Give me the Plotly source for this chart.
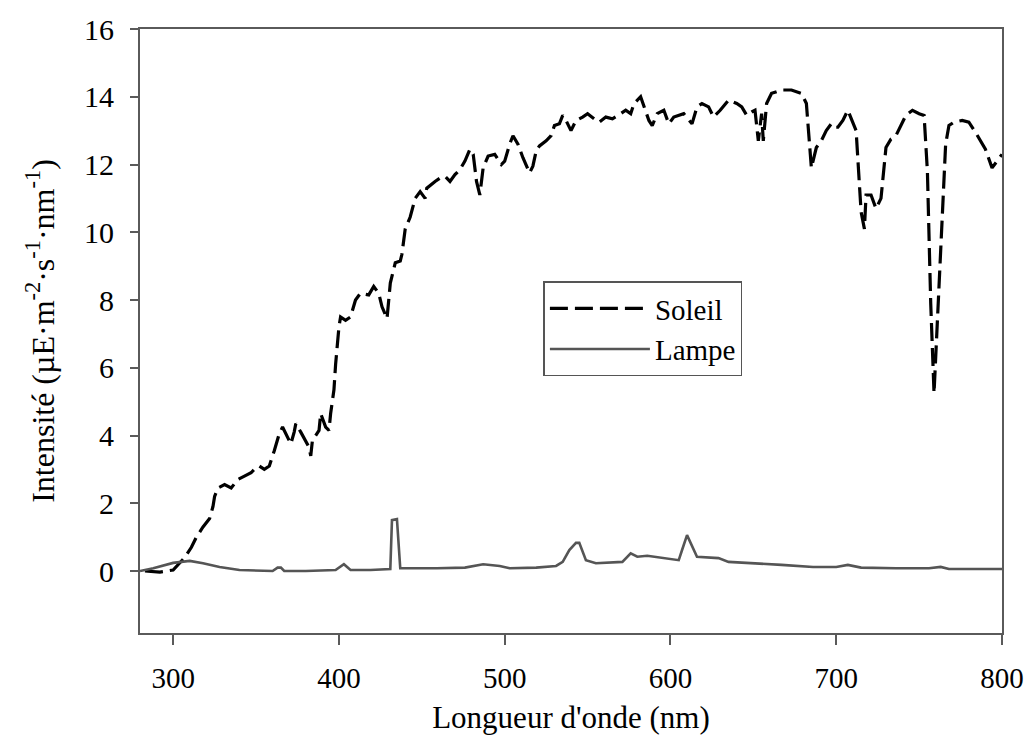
import plotly.graph_objects as go

# Soleil (sun) spectrum
soleil_nm = [283, 292, 300, 304, 307, 311, 314, 318, 322, 324, 325, 327, 331, 335, 339, 343, 347, 350,
             352, 355, 358, 361, 364, 366, 369, 371, 373, 374, 377, 380, 382, 383, 384, 388, 389, 392,
             394, 395, 396, 397, 398, 399, 400, 401, 404, 407, 410, 413, 418, 421, 424, 426, 429, 431,
             434, 437, 438, 440, 443, 446, 449, 452, 453, 458, 461, 464, 467, 470, 473, 476, 479, 481,
             483, 485, 487, 490, 494, 498, 500, 503, 505, 508, 511, 515, 517, 519, 521, 525, 528, 530,
             533, 535, 537, 540, 543, 547, 550, 554, 557, 561, 565, 570, 573, 576, 578, 582, 587, 589,
             592, 596, 599, 602, 608, 613, 616, 619, 623, 626, 630, 635, 640, 643, 646, 649, 651, 653,
             655, 656, 658, 661, 667, 673, 679, 682, 684, 685, 688, 691, 694, 697, 699, 701, 704, 707,
             712, 715, 717, 718, 721, 724, 727, 730, 733, 736, 742, 746, 750, 753, 755, 757, 759, 761,
             763, 766, 768, 771, 776, 780, 784, 790, 794, 797, 800]
soleil_val = [0.0, -0.03, 0.03, 0.23, 0.4, 0.7, 1.0, 1.3, 1.55, 1.9, 2.2, 2.45, 2.55, 2.45, 2.7, 2.8, 2.9, 3.05,
              3.1, 3.0, 3.1, 3.55, 4.05, 4.25, 3.95, 3.75, 4.1, 4.35, 4.1, 3.85, 3.65, 3.4, 3.85, 4.15, 4.65, 4.25,
              4.15, 4.65, 4.95, 5.35, 6.1, 6.8, 7.2, 7.5, 7.4, 7.5, 8.0, 8.2, 8.15, 8.4, 8.2, 7.8, 7.45, 8.5,
              9.1, 9.15, 9.35, 10.1, 10.45, 11.0, 11.2, 11.0, 11.3, 11.5, 11.6, 11.65, 11.5, 11.7, 11.85, 12.1, 12.45, 12.3,
              11.5, 11.1, 11.9, 12.25, 12.3, 12.0, 12.1, 12.6, 12.85, 12.6, 12.2, 11.75, 11.95, 12.4, 12.55, 12.7, 12.85, 13.15,
              13.2, 13.45, 13.3, 13.0, 13.3, 13.4, 13.5, 13.35, 13.25, 13.4, 13.35, 13.5, 13.6, 13.5, 13.8, 14.0, 13.3, 13.15,
              13.5, 13.6, 13.2, 13.4, 13.5, 13.2, 13.7, 13.8, 13.7, 13.4, 13.6, 13.9, 13.8, 13.7, 13.45, 13.55, 13.6, 12.7,
              13.5, 12.7, 13.8, 14.1, 14.2, 14.2, 14.1, 13.8, 12.6, 11.9, 12.5, 12.7, 13.0, 13.2, 13.1, 13.1, 13.3, 13.6,
              13.0, 10.6, 10.1, 11.1, 11.1, 10.7, 11.0, 12.5, 12.75, 12.85, 13.45, 13.6, 13.5, 13.45, 11.8, 7.9, 5.25, 7.4,
              9.85, 12.6, 13.15, 13.25, 13.3, 13.25, 12.95, 12.45, 11.9, 12.1, 12.3]

# Lampe (lamp) spectrum
lampe_nm = [280, 288, 300, 310, 318, 328, 340, 360, 363, 365, 367, 380, 398, 403, 407, 419, 431, 432, 435,
            437, 459, 476, 487, 497, 503, 519, 531, 535, 539, 543, 545, 549, 555, 571, 576, 580, 586, 595,
            605, 607, 610, 616, 625, 629, 635, 649, 667, 686, 700, 707, 715, 736, 756, 763, 768, 800]
lampe_val = [0.0, 0.08, 0.24, 0.3, 0.23, 0.12, 0.03, 0.0, 0.1, 0.1, 0.0, 0.0, 0.03, 0.2, 0.03, 0.03, 0.06, 1.5, 1.53,
             0.08, 0.08, 0.1, 0.2, 0.15, 0.08, 0.1, 0.15, 0.27, 0.62, 0.83, 0.83, 0.32, 0.23, 0.27, 0.52, 0.42, 0.45, 0.38,
             0.32, 0.62, 1.06, 0.42, 0.38, 0.38, 0.27, 0.24, 0.18, 0.12, 0.12, 0.18, 0.1, 0.08, 0.08, 0.12, 0.06, 0.06]

x_ticks = [300, 400, 500, 600, 700, 800]
y_ticks = [0, 2, 4, 6, 8, 10, 12, 14, 16]

FONT = "Liberation Serif, Times New Roman, serif"
AXC = "#5a5a5a"

fig = go.Figure()
fig.add_trace(go.Scatter(x=soleil_nm, y=soleil_val, mode="lines", name="Soleil",
                         line=dict(color="black", width=3.2, dash="18px,7px")))
fig.add_trace(go.Scatter(x=lampe_nm, y=lampe_val, mode="lines", name="Lampe",
                         line=dict(color="#555555", width=2.6)))

fig.update_layout(
    width=1036, height=752,
    margin=dict(l=140, r=26, t=28, b=119),
    paper_bgcolor="white", plot_bgcolor="white",
    font=dict(family=FONT, color="black", size=26),
    showlegend=True,
    legend=dict(x=0.468, y=0.582, xanchor="left", yanchor="top",
                bordercolor="#555555", borderwidth=1.5, bgcolor="white",
                font=dict(family=FONT, size=29, color="black"),
                itemwidth=100, tracegroupgap=0),
    xaxis=dict(range=[280, 800], tickvals=x_ticks, ticks="outside", ticklen=10, tickwidth=1.5,
               tickcolor=AXC, showline=True, linecolor=AXC, linewidth=2, mirror=True,
               showgrid=False, zeroline=False, ticklabelstandoff=8,
               tickfont=dict(family=FONT, size=29),
               title=dict(text="Longueur d'onde (nm)", font=dict(family=FONT, size=31), standoff=14)),
    yaxis=dict(range=[-1.83, 16], tickvals=y_ticks, ticks="outside", ticklen=8, tickwidth=1.5,
               tickcolor=AXC, showline=True, linecolor=AXC, linewidth=2, mirror=True,
               showgrid=False, zeroline=False, ticklabelstandoff=10,
               tickfont=dict(family=FONT, size=30),
               title=dict(text="Intensité (µE·m<sup>-2</sup>·s<sup>-1</sup>·nm<sup>-1</sup>)",
                          font=dict(family=FONT, size=32), standoff=20)),
)

fig.write_html("out.html")
